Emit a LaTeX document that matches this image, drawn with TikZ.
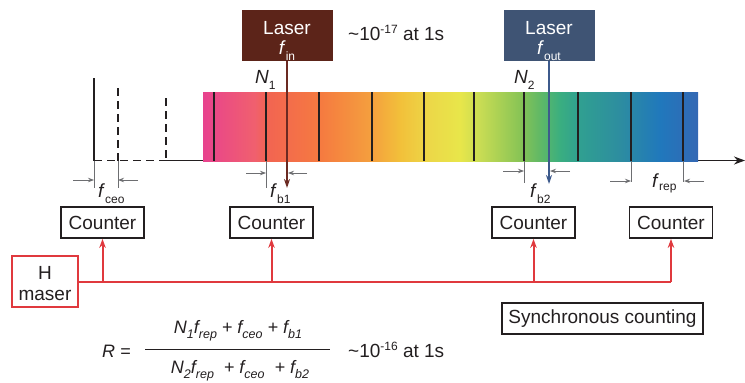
\documentclass[tikz,border=0pt]{standalone}
\usepackage{fontspec}
\setmainfont{Liberation Sans}
\usetikzlibrary{arrows.meta}
\definecolor{txt}{HTML}{231F20}
\definecolor{gry}{HTML}{6D6E71}
\definecolor{hred}{HTML}{E0393E}
\definecolor{inbox}{HTML}{5C2419}
\definecolor{outbox}{HTML}{3F5474}
\definecolor{inline}{HTML}{6B2A22}
\definecolor{outline}{HTML}{3D5A8C}
\definecolor{s0}{HTML}{E8428E}
\definecolor{s1}{HTML}{F0606E}
\definecolor{s2}{HTML}{F26452}
\definecolor{s3}{HTML}{F57A40}
\definecolor{s4}{HTML}{F4A03E}
\definecolor{s5}{HTML}{F2C03A}
\definecolor{s6}{HTML}{ECD848}
\definecolor{s7}{HTML}{E8E64A}
\definecolor{s8}{HTML}{C8DC54}
\definecolor{s9}{HTML}{88C455}
\definecolor{s10}{HTML}{60B866}
\definecolor{s11}{HTML}{3AAE80}
\definecolor{s12}{HTML}{30A090}
\definecolor{s13}{HTML}{2D8DA0}
\definecolor{s14}{HTML}{2078BC}
\definecolor{s15}{HTML}{3468B4}
\pgfdeclarehorizontalshading{rainbowbar}{100bp}{color(0bp)=(s0); color(25bp)=(s0); color(30.25bp)=(s1); color(31.36bp)=(s2); color(36.82bp)=(s3); color(42.07bp)=(s4); color(44.9bp)=(s5); color(47.93bp)=(s6); color(50.96bp)=(s7); color(52.98bp)=(s8); color(57.02bp)=(s9); color(59.04bp)=(s10); color(61.06bp)=(s11); color(62.88bp)=(s12); color(67.12bp)=(s13); color(71.16bp)=(s14); color(75bp)=(s15); color(100bp)=(s15)}
\newcommand\lsub[1]{\raisebox{-6pt}{\fontsize{12}{12}\selectfont #1}}
\newcommand\lsubr[1]{\raisebox{-3pt}{\fontsize{12}{12}\selectfont #1}}
\newcommand\fsub[1]{\raisebox{-5pt}{\fontsize{12.5}{12.5}\selectfont\itshape #1}}
\newcommand\tsup[1]{\raisebox{7pt}{\fontsize{12}{12}\selectfont #1}}
\begin{document}
\begin{tikzpicture}[x=1pt,y=-1pt,
  box/.style={draw=txt, line width=1.8pt, minimum width=83pt, minimum height=31pt, inner sep=0pt, font=\fontsize{19}{19}\selectfont, text=txt},
  laserbox/.style={minimum width=91pt, minimum height=51pt, inner sep=0pt, text=white, align=center, font=\fontsize{19}{20}\selectfont},
  lbl/.style={inner sep=0pt, text=txt, font=\fontsize{19}{19}\selectfont},
  flbl/.style={inner sep=0pt, text=txt, font=\fontsize{18}{18}\selectfont\itshape},
  tooth/.style={line width=2pt, draw=txt},
  ext/.style={line width=0.9pt, draw=gry},
  meas/.style={line width=0.9pt, draw=gry, -{Stealth[length=6pt,width=4.5pt]}},
  redl/.style={draw=hred, line width=2pt},
  redarr/.style={redl, -{Stealth[length=9pt,width=6.5pt]}},
]
\useasboundingbox (0,0) rectangle (745,383);

% axis
\draw[line width=1.8pt, txt, dash pattern=on 8pt off 5pt] (94,160.5) -- (166,160.5);
\coordinate (axs) at (166,160.5);
\coordinate (axe) at (745,160.5);
\draw[line width=1.8pt, txt, -{Stealth[length=11pt,width=8pt]}] (axs) -- (axe);

% left comb lines
\draw[line width=1.8pt, txt] (94,78) -- (94,160.5);
\draw[line width=1.8pt, txt, dash pattern=on 8pt off 5pt] (118,88) -- (118,160.5);
\draw[line width=1.8pt, txt, dash pattern=on 8pt off 5pt] (166,98) -- (166,160.5);
\draw[ext] (94,160.5) -- (94,188);
\draw[ext] (118,160.5) -- (118,188);

% spectrum bar
\shade[shading=rainbowbar] (203,92) rectangle (698,161);
\foreach \x in {214,266,319,372,424,474,524,578,631,683}
  \draw[tooth] (\x,92) -- (\x,161);
\draw[ext] (266,161) -- (266,188);
\draw[ext] (524,161) -- (524,183);
\draw[ext] (631,161) -- (631,182);
\draw[ext] (683,161) -- (683,182);

% lasers
\node[laserbox, fill=inbox] (laserin) at (287,35.5) {\rule{0pt}{24pt}Laser\\\textit{f}\lsub{in}};
\node[laserbox, fill=outbox] (laserout) at (549,35.5) {\rule{0pt}{24pt}Laser\\\textit{f}\lsub{out}};
\coordinate (inend) at (287,188);
\coordinate (outend) at (549,184);
\draw[line width=1.5pt, inline, -{Stealth[length=9pt,width=6pt]}] (laserin.south) -- (inend);
\draw[line width=1.5pt, outline, -{Stealth[length=9pt,width=6pt]}] (laserout.south) -- (outend);
\node[lbl, anchor=base west] (stab1) at (348,40) {\textasciitilde10\tsup{-17} at 1s};

% N labels
\node[lbl, anchor=base west] (n1) at (255,83) {\textit{N}\lsub{1}};
\node[lbl, anchor=base west] (n2) at (514,83) {\textit{N}\lsub{2}};

% measurement arrows
\coordinate (ceoa) at (73,180);  \coordinate (ceob) at (94,180);
\coordinate (ceoc) at (138,180); \coordinate (ceod) at (118,180);
\draw[meas] (ceoa) -- (ceob); \draw[meas] (ceoc) -- (ceod);
\coordinate (b1a) at (246,173);  \coordinate (b1b) at (266,173);
\coordinate (b1c) at (307,173);  \coordinate (b1d) at (288,173);
\draw[meas] (b1a) -- (b1b); \draw[meas] (b1c) -- (b1d);
\coordinate (b2a) at (503,171);  \coordinate (b2b) at (524,171);
\coordinate (b2c) at (570,171);  \coordinate (b2d) at (550,171);
\draw[meas] (b2a) -- (b2b); \draw[meas] (b2c) -- (b2d);
\coordinate (repa) at (610,181); \coordinate (repb) at (631,181);
\coordinate (repc) at (704,181); \coordinate (repd) at (684,181);
\draw[meas] (repa) -- (repb); \draw[meas] (repc) -- (repd);

\node[lbl, anchor=base west] (fceo) at (98,197) {\textit{f}\lsub{ceo}};
\node[lbl, anchor=base west] (fb1) at (270,197) {\textit{f}\lsub{b1}};
\node[lbl, anchor=base west] (fb2) at (530,197) {\textit{f}\lsub{b2}};
\node[lbl, anchor=base west] (frep) at (652,187) {\textit{f}\lsubr{rep}};

% counters
\node[box] (c1) at (102.5,222.5) {Counter};
\node[box] (c2) at (271.5,222.5) {Counter};
\node[box] (c3) at (533.5,222.5) {Counter};
\node[box] (c4) at (671,222.5) {Counter};

% H maser
\node[box, draw=hred, minimum width=66pt, minimum height=51pt, align=center, font=\fontsize{19}{21}\selectfont] (maser) at (45,281.5) {\rule{0pt}{17pt}H\\maser};
\draw[redl] (maser.east) -- (c4.south |- maser.east);
\draw[redarr] (c4.south |- maser.east) -- (c4.south);
\draw[redarr] (c1.south |- maser.east) -- (c1.south);
\draw[redarr] (c2.south |- maser.east) -- (c2.south);
\draw[redarr] (c3.south |- maser.east) -- (c3.south);

% synchronous counting
\node[box, minimum width=201pt] (sync) at (602.5,318.5) {Synchronous counting};

% formula
\node[flbl, anchor=base west] (R) at (102,357) {R =};
\node[flbl, anchor=base] (num) at (238,333) {N\fsub{1}f\fsub{rep} + f\fsub{ceo} + f\fsub{b1}};
\node[flbl, anchor=base] (den) at (240,373) {N\fsub{2}f\fsub{rep} \ + f\fsub{ceo} \ + f\fsub{b2}};
\draw[line width=1pt, txt] (145,349) -- (330,349);
\node[lbl, anchor=base west] (stab2) at (348,357) {\textasciitilde10\tsup{-16} at 1s};
\end{tikzpicture}
\end{document}
